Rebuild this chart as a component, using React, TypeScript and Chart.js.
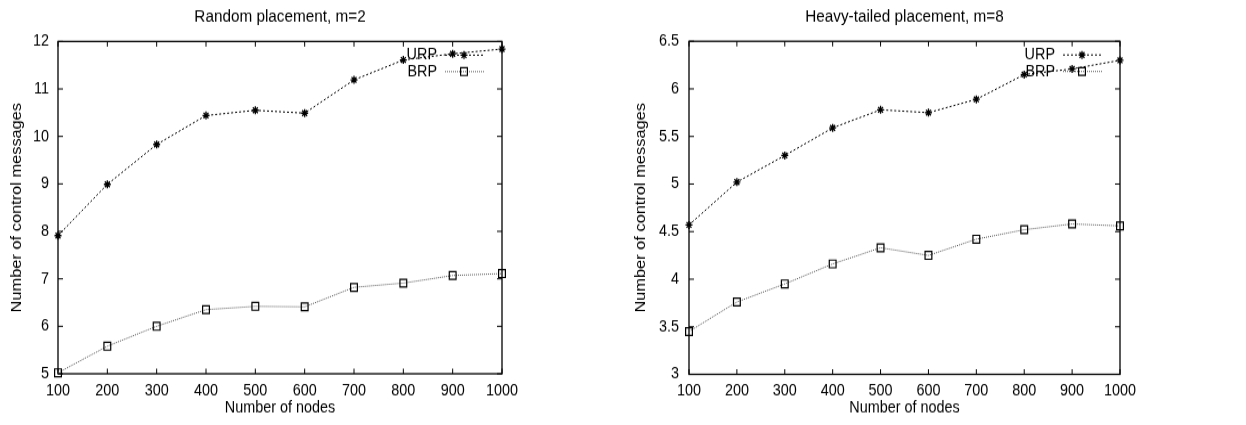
import React, { useEffect, useRef } from "react";
import { Chart, registerables } from "chart.js";

Chart.register(...registerables);

const X_NODES = [100, 200, 300, 400, 500, 600, 700, 800, 900, 1000];
const URP_RANDOM = [7.91, 8.99, 9.83, 10.44, 10.55, 10.49, 11.19, 11.61, 11.74, 11.84];
const BRP_RANDOM = [5.02, 5.58, 6.0, 6.35, 6.42, 6.41, 6.82, 6.91, 7.07, 7.11];
const URP_HEAVY = [4.57, 5.02, 5.3, 5.59, 5.78, 5.75, 5.89, 6.15, 6.21, 6.3];
const BRP_HEAVY = [3.45, 3.76, 3.95, 4.16, 4.33, 4.25, 4.42, 4.52, 4.58, 4.56];
const SERIES_NAMES = ["URP", "BRP"];

const FONT = "'Liberation Sans', Arial, Helvetica, sans-serif";
// The reference picture is stretched vertically relative to horizontal.
const PAGE_H = 425;
const INNER_H = 373;

type PanelProps = {
  title: string;
  urp: number[];
  brp: number[];
  yMin: number;
  yMax: number;
  yStep: number;
  left: number;
  width: number;
  yScaleWidth: number;
  xScaleHeight: number;
  padRight: number;
  titleTop: number;
  titleBottom: number;
  yTickPad: number;
  yTitlePad: number;
};

const boxPlugin = {
  id: "gnuplotBox",
  beforeDatasetsDraw(chart: any) {
    const { ctx, chartArea } = chart;
    const { left, right, top, bottom } = chartArea;
    const xs = chart.scales.x;
    const ys = chart.scales.y;
    ctx.save();
    ctx.strokeStyle = "#000";
    ctx.lineWidth = 1;
    ctx.beginPath();
    const tlx = 4.5;
    const tly = 5;
    xs.ticks.forEach((t: any) => {
      const px = xs.getPixelForValue(t.value);
      ctx.moveTo(px, bottom);
      ctx.lineTo(px, bottom - tlx);
      ctx.moveTo(px, top);
      ctx.lineTo(px, top + tlx);
    });
    ys.ticks.forEach((t: any) => {
      const py = ys.getPixelForValue(t.value);
      ctx.moveTo(left, py);
      ctx.lineTo(left + tly, py);
      ctx.moveTo(right, py);
      ctx.lineTo(right - tly, py);
    });
    ctx.stroke();
    ctx.lineWidth = 1.3;
    ctx.strokeRect(left, top, right - left, bottom - top);
    ctx.restore();
  },
  afterDatasetsDraw(chart: any) {
    const { ctx, chartArea } = chart;
    const { right, top } = chartArea;
    ctx.save();
    chart.data.datasets.forEach((ds: any, i: number) => {
      const y = top + 12 + i * 14.5;
      ctx.font = `14.4px ${FONT}`;
      ctx.fillStyle = "#000";
      ctx.textAlign = "right";
      ctx.textBaseline = "middle";
      ctx.fillText(ds.label, right - 65, y);
      ctx.strokeStyle = ds.borderColor;
      ctx.lineWidth = ds.borderWidth;
      ctx.setLineDash(ds.borderDash);
      ctx.beginPath();
      ctx.moveTo(right - 57, y);
      ctx.lineTo(right - 18, y);
      ctx.stroke();
      ctx.setLineDash([]);
      const mx = right - 38;
      ctx.strokeStyle = ds.pointBorderColor;
      ctx.lineWidth = ds.pointBorderWidth;
      ctx.beginPath();
      if (ds.pointStyle === "star") {
        const r = ds.pointRadius;
        const d = r * Math.SQRT1_2;
        ctx.moveTo(mx - r, y);
        ctx.lineTo(mx + r, y);
        ctx.moveTo(mx, y - r);
        ctx.lineTo(mx, y + r);
        ctx.moveTo(mx - d, y - d);
        ctx.lineTo(mx + d, y + d);
        ctx.moveTo(mx - d, y + d);
        ctx.lineTo(mx + d, y - d);
      } else {
        const s = ds.pointRadius * Math.SQRT1_2;
        ctx.rect(mx - s, y - s, 2 * s, 2 * s);
      }
      ctx.stroke();
    });
    ctx.restore();
  },
};

function Panel(p: PanelProps) {
  const ref = useRef<HTMLCanvasElement | null>(null);
  useEffect(() => {
    if (!ref.current) return;
    const tickFont = { family: FONT, size: 14.4 };
    const chart = new Chart(ref.current, {
      type: "line",
      data: {
        datasets: [
          {
            label: SERIES_NAMES[0],
            data: X_NODES.map((x, i) => ({ x, y: p.urp[i] })),
            borderColor: "#000",
            borderWidth: 1,
            borderDash: [2, 2],
            pointStyle: "star",
            pointRadius: 3.5,
            pointBorderColor: "#000",
            pointBorderWidth: 1.3,
            pointBackgroundColor: "#000",
            fill: false,
            tension: 0,
            clip: false,
          } as any,
          {
            label: SERIES_NAMES[1],
            data: X_NODES.map((x, i) => ({ x, y: p.brp[i] })),
            borderColor: "#555",
            borderWidth: 1,
            borderDash: [1, 1],
            pointStyle: "rect",
            pointRadius: 4.8,
            pointBorderColor: "#000",
            pointBorderWidth: 1.2,
            pointBackgroundColor: "rgba(0,0,0,0)",
            fill: false,
            tension: 0,
            clip: false,
          } as any,
        ],
      },
      options: {
        animation: false,
        responsive: false,
        events: [],
        layout: { padding: { top: 0, left: 0, bottom: 0, right: p.padRight } },
        plugins: {
          legend: { display: false },
          tooltip: { enabled: false },
          title: {
            display: true,
            text: p.title,
            fullSize: false,
            color: "#000",
            font: { family: FONT, size: 15.3, weight: "normal" },
            padding: { top: p.titleTop, bottom: p.titleBottom },
          },
        },
        scales: {
          x: {
            type: "linear",
            min: 100,
            max: 1000,
            ticks: {
              stepSize: 100,
              padding: 6,
              color: "#000",
              font: tickFont,
              maxRotation: 0,
              callback: (v: any) => String(v),
            },
            grid: { display: false, drawTicks: false },
            border: { display: false },
            title: {
              display: true,
              text: "Number of nodes",
              color: "#000",
              font: tickFont,
              padding: { top: 0, bottom: 6 },
            },
            afterFit: (s: any) => {
              s.height = p.xScaleHeight;
            },
          },
          y: {
            type: "linear",
            min: p.yMin,
            max: p.yMax,
            ticks: {
              stepSize: p.yStep,
              padding: p.yTickPad,
              color: "#000",
              font: tickFont,
              callback: (v: any) => String(v),
            },
            grid: { display: false, drawTicks: false },
            border: { display: false },
            title: {
              display: true,
              text: "Number of control messages",
              color: "#000",
              font: tickFont,
              padding: { top: p.yTitlePad, bottom: 0 },
            },
            afterFit: (s: any) => {
              s.width = p.yScaleWidth;
            },
          },
        },
      } as any,
      plugins: [boxPlugin],
    });
    return () => chart.destroy();
  }, []);
  return (
    <canvas
      ref={ref}
      width={p.width}
      height={INNER_H}
      style={{ position: "absolute", left: p.left, top: 0, width: p.width, height: PAGE_H, display: "block" }}
    />
  );
}

export default function App() {
  return (
    <div style={{ position: "fixed", left: 0, top: 0, width: 1246, height: PAGE_H, background: "#fff" }}>
      <Panel
        title="Random placement, m=2"
        urp={URP_RANDOM}
        brp={BRP_RANDOM}
        yMin={5}
        yMax={12}
        yStep={1}
        left={0}
        width={620}
        yScaleWidth={58}
        xScaleHeight={45}
        padRight={118}
        titleTop={5.9}
        titleBottom={12.1}
        yTickPad={9}
        yTitlePad={8.6}
      />
      <Panel
        title="Heavy-tailed placement, m=8"
        urp={URP_HEAVY}
        brp={BRP_HEAVY}
        yMin={3}
        yMax={6.5}
        yStep={0.5}
        left={620}
        width={626}
        yScaleWidth={69}
        xScaleHeight={44.5}
        padRight={126}
        titleTop={5.9}
        titleBottom={11.95}
        yTickPad={10}
        yTitlePad={12.2}
      />
    </div>
  );
}
